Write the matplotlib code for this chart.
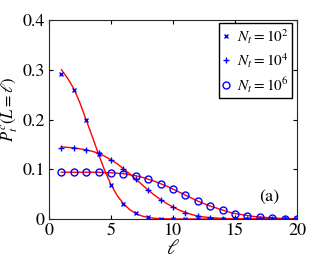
import numpy as np
import matplotlib
matplotlib.use("Agg")
import matplotlib.pyplot as plt

plt.rcParams["font.family"] = "STIXGeneral"
plt.rcParams["mathtext.fontset"] = "stix"

# data points
ell = np.arange(1, 21)
p_1e2 = [0.291, 0.260, 0.200, 0.130, 0.068, 0.031, 0.012, 0.004, 0.001, 0.0003,
         0, 0, 0, 0, 0, 0, 0, 0, 0, 0]
p_1e4 = [0.142, 0.142, 0.139, 0.132, 0.119, 0.101, 0.080, 0.058, 0.039, 0.024,
         0.013, 0.006, 0.003, 0.001, 0.0004, 0, 0, 0, 0, 0]
p_1e6 = [0.094, 0.094, 0.094, 0.094, 0.093, 0.091, 0.087, 0.080, 0.071, 0.060,
         0.048, 0.036, 0.026, 0.018, 0.011, 0.007, 0.004, 0.002, 0.001, 0.0005]

# fit curves
fit_x = np.arange(1, 20.5, 0.5)
fit_1e2 = [0.300, 0.283, 0.262, 0.233, 0.199, 0.165, 0.130, 0.097, 0.069, 0.047,
           0.031, 0.019, 0.011, 0.006, 0.003, 0.0015, 0.0007, 0.0003, 0.0001] + [0] * 20
fit_1e4 = [0.145, 0.144, 0.143, 0.141, 0.139, 0.136, 0.132, 0.126, 0.119, 0.111,
           0.101, 0.091, 0.080, 0.069, 0.058, 0.048, 0.039, 0.031, 0.024, 0.018,
           0.013, 0.009, 0.006, 0.004, 0.003, 0.002, 0.001, 0.0006, 0.0003, 0.0002] + [0] * 9
fit_1e6 = [0.094, 0.094, 0.094, 0.094, 0.094, 0.094, 0.094, 0.093, 0.093, 0.092,
           0.091, 0.089, 0.087, 0.084, 0.080, 0.076, 0.071, 0.066, 0.060, 0.054,
           0.048, 0.042, 0.036, 0.031, 0.026, 0.022, 0.018, 0.014, 0.011, 0.009,
           0.007, 0.005, 0.004, 0.003, 0.002, 0.0015, 0.001, 0.0007, 0.0005]

fig = plt.figure(figsize=(3.27, 2.66), dpi=100)
ax = fig.add_axes([49 / 327, 1 - 219 / 266, 248 / 327, 199 / 266])

ax.plot(fit_x, fit_1e2, color="red", lw=1)
ax.plot(fit_x, fit_1e4, color="red", lw=1)
ax.plot(fit_x, fit_1e6, color="red", lw=1)

ax.plot(ell, p_1e2, "x", color="blue", ms=3.5, mew=1, label=r"$N_t = 10^2$")
ax.plot(ell, p_1e4, "+", color="blue", ms=5, mew=1, label=r"$N_t = 10^4$")
ax.plot(ell, p_1e6, "o", color="blue", ms=5, mew=1, mfc="none", label=r"$N_t = 10^6$")

ax.set_xlim(0, 20)
ax.set_ylim(0, 0.4)
ax.set_xticks([0, 5, 10, 15, 20])
ax.set_yticks([0, 0.1, 0.2, 0.3, 0.4])
ax.set_yticklabels(["0", "0.1", "0.2", "0.3", "0.4"])
ax.tick_params(direction="in", top=True, right=True, labelsize=13, length=3, pad=3)
for s in ax.spines.values():
    s.set_color("#262626")

ax.set_xlabel(r"$\ell$", fontsize=15, labelpad=0)
ax.set_ylabel(r"$P_t^c(L=\ell)$", fontsize=12)
ax.yaxis.set_label_coords(-0.118, 0.55)

ax.text(0.93, 0.07, "(a)", transform=ax.transAxes, ha="right", va="bottom", fontsize=13)

leg = ax.legend(loc="upper right", fontsize=11, handlelength=0.4, handletextpad=0.5,
                borderpad=0.25, labelspacing=0.35, fancybox=False, framealpha=1,
                borderaxespad=0, bbox_to_anchor=(1 - 5 / 248, 1 - 3 / 199))
leg.get_frame().set_edgecolor("black")
leg.get_frame().set_linewidth(1)

fig.savefig("out.png", dpi=100)
